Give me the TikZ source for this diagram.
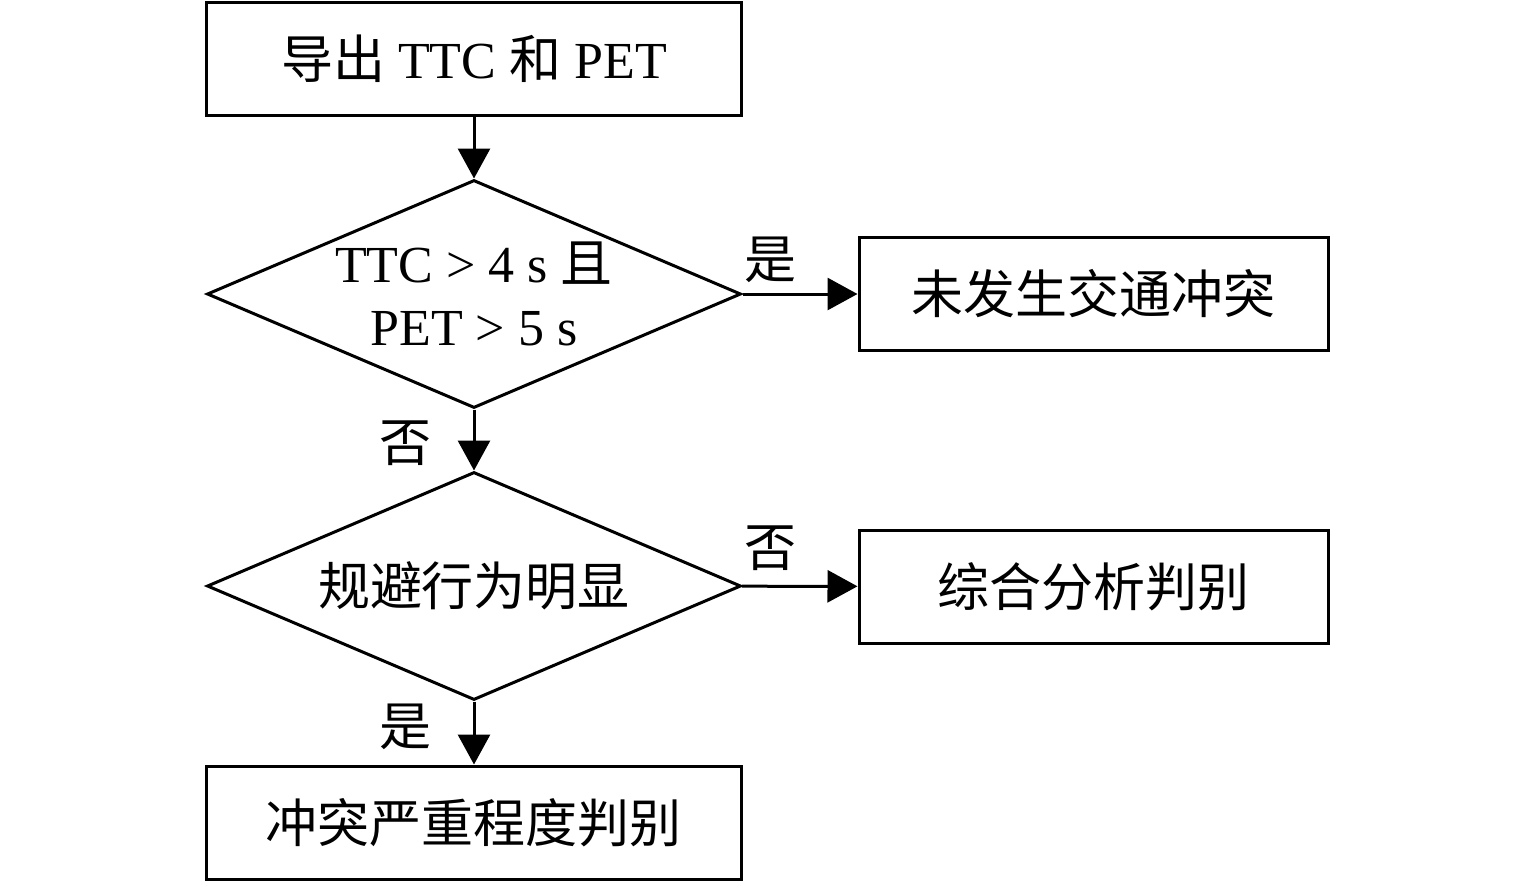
\documentclass[tikz,border=0pt]{standalone}
\usepackage{fontspec}
\setmainfont{Liberation Serif}
\newfontfamily\cjk{Noto Sans CJK SC}
\usetikzlibrary{shapes.geometric, arrows.meta}

\begin{document}
\begin{tikzpicture}[x=0.25pt, y=-0.25pt, line width=0.75pt,
	font=\fontsize{13}{15.75}\selectfont,
	box/.style={draw, rectangle, minimum width=133.75pt,
		minimum height=28.25pt, inner sep=0pt},
	dec/.style={draw, diamond, aspect=2.34, minimum width=133.5pt,
		minimum height=57pt, inner sep=0pt, align=center},
	arr/.style={-{Triangle[length=7.5pt, width=8pt]}}]
	\useasboundingbox (0,0) rectangle (1535,881);
	% main column
	\node[box] (out) at (474,58.5) {{\cjk 导出} TTC {\cjk 和} PET};
	\node[dec] (d1) at (474,294) {TTC > 4 s {\cjk 且}\\PET > 5 s};
	\node[dec] (d2) at (474,586) {\cjk 规避行为明显};
	\node[box] (sev) at (474,822.5) {\cjk 冲突严重程度判别};
	% right column
	\node[box, minimum width=117.25pt] (none) at (1093.5,294) {\cjk 未发生交通冲突};
	\node[box, minimum width=117.25pt] (ana) at (1093.5,586.5) {\cjk 综合分析判别};
	% labels
	\node (y1) at (770,260) {\cjk 是};
	\node (n1) at (405,443) {\cjk 否};
	\node (n2) at (770,548) {\cjk 否};
	\node (y2) at (405,727) {\cjk 是};
	\draw[arr] (out) -- (d1);
	\draw[arr] (d1) -- (none);
	\draw[arr] (d1) -- (d2);
	\draw[arr] (d2) -- (ana);
	\draw[arr] (d2) -- (sev);
\end{tikzpicture}
\end{document}
